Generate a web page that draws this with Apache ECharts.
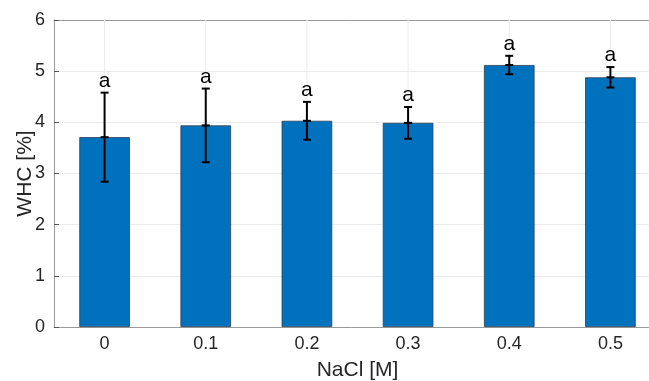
<!DOCTYPE html>
<html>
<head>
<meta charset="utf-8">
<script src="https://cdn.jsdelivr.net/npm/echarts@6/dist/echarts.min.js"></script>
<style>
  html, body { margin: 0; padding: 0; background: #fff; }
  #chart { width: 649px; height: 381px; }
</style>
</head>
<body>
<div id="chart"></div>
<script>
  // 数据
  var categories = ['0', '0.1', '0.2', '0.3', '0.4', '0.5'];
  var whcMean = [3.71, 3.94, 4.03, 3.99, 5.12, 4.88];
  var whcErr = [0.87, 0.72, 0.37, 0.31, 0.18, 0.20];
  var groupLetters = ['a', 'a', 'a', 'a', 'a', 'a'];
  var yTicks = [0, 1, 2, 3, 4, 5, 6];

  var axisGray = '#9a9a9a';
  var textDark = '#262626';
  var fontName = 'Liberation Sans';

  var myChart = echarts.init(document.getElementById('chart'));

  var errData = whcMean.map(function (m, i) { return [i, m, whcErr[i], groupLetters[i]]; });
  var gridData = categories.map(function (c, i) { return [i]; });

  var option = {
    animation: false,
    // 绘图区右侧超出画布（参考图被裁切）
    grid: { left: 54, top: 20, width: 607, height: 307, outerBoundsMode: 'none', containLabel: false },
    xAxis: [{
      type: 'category',
      data: categories,
      position: 'bottom',
      name: 'NaCl [M]',
      nameLocation: 'middle',
      nameGap: 33,
      nameTextStyle: { fontFamily: fontName, fontSize: 21, color: textDark },
      axisLine: { lineStyle: { color: axisGray, width: 1 } },
      axisTick: { inside: true, alignWithLabel: true, length: 5, lineStyle: { color: '#555' } },
      axisLabel: { fontFamily: fontName, fontSize: 18, color: textDark, margin: 8 },
      splitLine: { show: false }
    }, {
      type: 'category',
      data: categories,
      position: 'top',
      axisLine: { lineStyle: { color: axisGray, width: 1 } },
      axisTick: { inside: true, alignWithLabel: true, length: 5, lineStyle: { color: '#555' } },
      axisLabel: { show: false },
      splitLine: { show: false }
    }],
    yAxis: {
      type: 'value',
      min: yTicks[0],
      max: yTicks[yTicks.length - 1],
      interval: 1,
      name: 'WHC [%]',
      nameLocation: 'middle',
      nameGap: 18,
      nameMoveOverlap: false,
      nameTextStyle: { fontFamily: fontName, fontSize: 21, color: textDark },
      axisLine: { show: true, lineStyle: { color: axisGray, width: 1 } },
      axisTick: { show: true, inside: true, length: 5, lineStyle: { color: '#555' } },
      axisLabel: { fontFamily: fontName, fontSize: 18, color: textDark, margin: 9 },
      splitLine: { lineStyle: { color: '#ebebeb', width: 1 } }
    },
    series: [{
      // 竖向网格线（类目中心）
      type: 'custom',
      z: 1,
      silent: true,
      data: gridData,
      renderItem: function (params, api) {
        var p0 = api.coord([api.value(0), yTicks[0]]);
        var p1 = api.coord([api.value(0), yTicks[yTicks.length - 1]]);
        return {
          type: 'line',
          shape: { x1: p0[0], y1: p0[1], x2: p1[0], y2: p1[1] },
          style: { stroke: '#ebebeb', lineWidth: 1 }
        };
      }
    }, {
      type: 'bar',
      z: 2,
      data: whcMean,
      barWidth: '50%',
      itemStyle: { color: '#0072BD', borderColor: '#2a3f55', borderWidth: 0.8 }
    }, {
      // 误差棒 + 字母标注
      type: 'custom',
      z: 3,
      data: errData,
      renderItem: function (params, api) {
        var x = api.value(0), m = api.value(1), e = api.value(2);
        var top = api.coord([x, m + e]);
        var bot = api.coord([x, m - e]);
        var mid = api.coord([x, m]);
        var hw = 4;
        var st = { stroke: '#000', lineWidth: 2 };
        return {
          type: 'group',
          children: [
            { type: 'line', shape: { x1: top[0], y1: top[1], x2: bot[0], y2: bot[1] }, style: st },
            { type: 'line', shape: { x1: top[0] - hw, y1: top[1], x2: top[0] + hw, y2: top[1] }, style: st },
            { type: 'line', shape: { x1: bot[0] - hw, y1: bot[1], x2: bot[0] + hw, y2: bot[1] }, style: st },
            { type: 'line', shape: { x1: mid[0] - hw, y1: mid[1], x2: mid[0] + hw, y2: mid[1] }, style: st },
            {
              type: 'text',
              style: {
                text: groupLetters[params.dataIndex],
                x: top[0], y: top[1] - 1,
                align: 'center', verticalAlign: 'bottom',
                fontFamily: fontName, fontSize: 21, fill: '#000'
              }
            }
          ]
        };
      }
    }]
  };

  myChart.setOption(option);
</script>
</body>
</html>
